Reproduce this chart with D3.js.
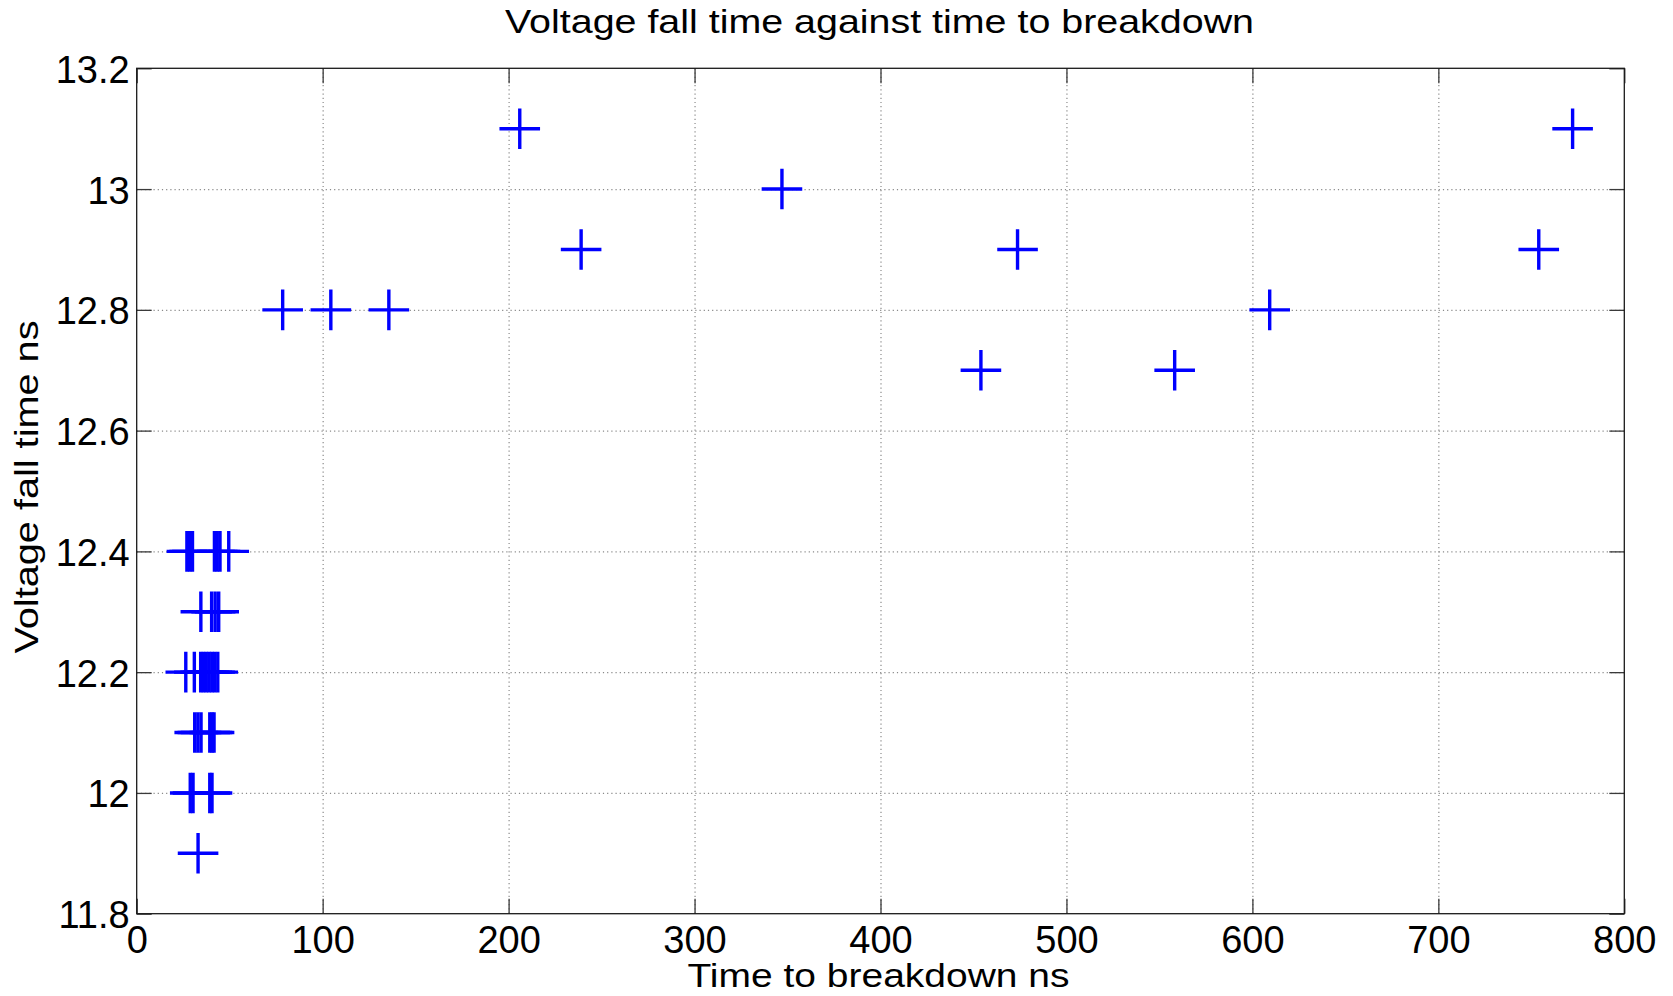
<!DOCTYPE html>
<html>
<head>
<meta charset="utf-8">
<script src="https://cdn.jsdelivr.net/npm/d3@7"></script>
<style>
  body { margin: 0; background: #fff; }
  text { font-family: "Liberation Sans", Arial, sans-serif; fill: #000; }
</style>
</head>
<body>
<script>
// time to breakdown (ns) and voltage fall time (ns)
const timeToBreakdown = [
  78.5, 104.4, 135.6, 206, 239, 347, 454, 473.7, 558.2, 609.3, 754, 772.2,
  27, 28.5, 30, 41.8, 43.3, 44.8, 49.5,
  34.5, 40.3, 42.2, 44.1,
  26.4, 31, 34.4, 35.9, 37.4, 38.9, 40.4, 41.9, 43.6,
  31.2, 32.9, 34.6, 39.3, 40.5, 41.6,
  28.8, 30.3, 39.3, 40.5,
  33
];
const fallTime = [
  12.8, 12.8, 12.8, 13.1, 12.9, 13.0, 12.7, 12.9, 12.7, 12.8, 12.9, 13.1,
  12.4, 12.4, 12.4, 12.4, 12.4, 12.4, 12.4,
  12.3, 12.3, 12.3, 12.3,
  12.2, 12.2, 12.2, 12.2, 12.2, 12.2, 12.2, 12.2, 12.2,
  12.1, 12.1, 12.1, 12.1, 12.1, 12.1,
  12.0, 12.0, 12.0, 12.0,
  11.9
];
const xTicks = [0, 100, 200, 300, 400, 500, 600, 700, 800];
const yTicks = [11.8, 12.0, 12.2, 12.4, 12.6, 12.8, 13.0, 13.2];

const W = 1673, H = 996;
const plotLeft = 136.7, plotRight = 1624.3, plotTop = 68.3, plotBottom = 913.7;

const svg = d3.select('body').append('svg')
  .attr('width', W)
  .attr('height', H);

const x = d3.scaleLinear().domain([0, 800]).range([plotLeft, plotRight]);
const y = d3.scaleLinear().domain([11.8, 13.2]).range([plotBottom, plotTop]);

// dotted grid
const gridX = svg.append('g')
  .attr('transform', `translate(0,${plotBottom})`)
  .call(d3.axisBottom(x).tickValues(xTicks.slice(1, -1)).tickSize(-(plotBottom - plotTop)).tickFormat(''));
const gridY = svg.append('g')
  .attr('transform', `translate(${plotLeft},0)`)
  .call(d3.axisLeft(y).tickValues(yTicks.slice(1, -1)).tickSize(-(plotRight - plotLeft)).tickFormat(''));
[gridX, gridY].forEach(g => {
  g.select('.domain').remove();
  g.selectAll('line')
    .attr('stroke', '#8a8a8a')
    .attr('stroke-width', 1.2)
    .attr('stroke-dasharray', '1.2,3');
});

// inward ticks on all four sides
const tickLen = 15;
const axisB = svg.append('g')
  .attr('transform', `translate(0,${plotBottom})`)
  .call(d3.axisBottom(x).tickValues(xTicks).tickSize(-tickLen).tickFormat(d => d));
const axisT = svg.append('g')
  .attr('transform', `translate(0,${plotTop})`)
  .call(d3.axisTop(x).tickValues(xTicks).tickSize(-tickLen).tickFormat(''));
const axisL = svg.append('g')
  .attr('transform', `translate(${plotLeft},0)`)
  .call(d3.axisLeft(y).tickValues(yTicks).tickSize(-tickLen).tickFormat(d => +d.toFixed(1)));
const axisR = svg.append('g')
  .attr('transform', `translate(${plotRight},0)`)
  .call(d3.axisRight(y).tickValues(yTicks).tickSize(-tickLen).tickFormat(''));

[axisB, axisT, axisL, axisR].forEach(g => {
  g.select('.domain').remove();
  g.selectAll('line').attr('stroke', '#3a3a3a').attr('stroke-width', 1.3);
  g.attr('font-family', null).attr('font-size', null);
});

axisB.selectAll('text')
  .attr('y', 39)
  .attr('dy', null)
  .style('font-size', '38px')
  .attr('text-anchor', 'middle');

axisL.selectAll('text')
  .attr('x', -7)
  .attr('dy', null)
  .attr('y', 14)
  .style('font-size', '38px')
  .attr('text-anchor', 'end');

// box
svg.append('rect')
  .attr('x', plotLeft)
  .attr('y', plotTop)
  .attr('width', plotRight - plotLeft)
  .attr('height', plotBottom - plotTop)
  .attr('fill', 'none')
  .attr('stroke', '#1a1a1a')
  .attr('stroke-width', 1.3);

// '+' markers
const arm = 20.3;
svg.append('g')
  .selectAll('path')
  .data(timeToBreakdown.map((t, i) => [t, fallTime[i]]))
  .join('path')
  .attr('d', d => {
    const cx = x(d[0]), cy = y(d[1]);
    return `M${cx - arm},${cy}H${cx + arm}M${cx},${cy - arm}V${cy + arm}`;
  })
  .attr('stroke', '#0000ff')
  .attr('stroke-width', 3.4)
  .attr('fill', 'none');

// labels
svg.append('text')
  .attr('x', 879.5)
  .attr('y', 33)
  .attr('text-anchor', 'middle')
  .attr('textLength', 749)
  .attr('lengthAdjust', 'spacingAndGlyphs')
  .style('font-size', '33px')
  .text('Voltage fall time against time to breakdown');

svg.append('text')
  .attr('x', 878.5)
  .attr('y', 987)
  .attr('text-anchor', 'middle')
  .attr('textLength', 382)
  .attr('lengthAdjust', 'spacingAndGlyphs')
  .style('font-size', '33px')
  .text('Time to breakdown ns');

svg.append('text')
  .attr('transform', 'translate(38,487) rotate(-90)')
  .attr('text-anchor', 'middle')
  .attr('textLength', 333)
  .attr('lengthAdjust', 'spacingAndGlyphs')
  .style('font-size', '33px')
  .text('Voltage fall time ns');
</script>
</body>
</html>
